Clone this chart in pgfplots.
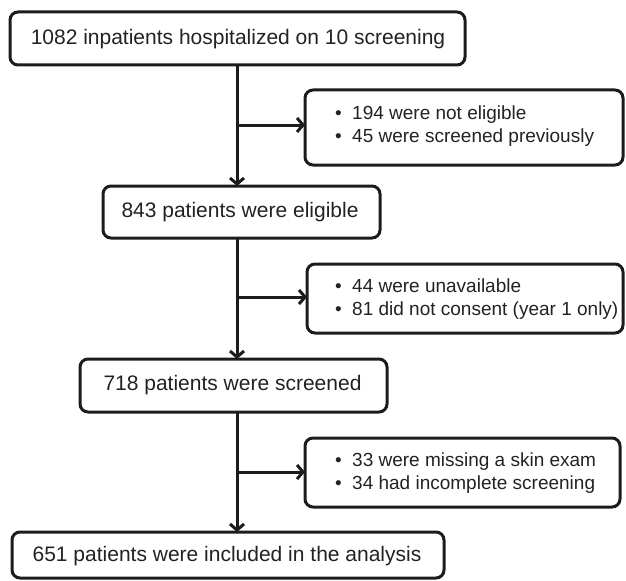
\documentclass[border=0pt]{standalone}
\usepackage{pgfplots}
\pgfplotsset{compat=1.18}
\usepackage{fontspec}
\setmainfont{Liberation Sans}
\usetikzlibrary{arrows.meta}
\definecolor{ink}{HTML}{1C1C1C}
\definecolor{txt}{HTML}{222222}
\newcommand{\bul}{\makebox[17bp][l]{\textbullet}}
\begin{document}
\begin{tikzpicture}[
  box/.style={draw=ink,line width=3bp,rounded corners=8bp},
  conn/.style={draw=ink,line width=3bp},
  arr/.style={draw=ink,line width=3bp,-{Straight Barb[length=6bp,width=14bp,line width=3bp]}},
  big/.style={text=txt,font=\fontsize{21bp}{24bp}\selectfont,inner sep=0pt},
  small/.style={text=txt,font=\fontsize{19bp}{23.5bp}\selectfont,inner sep=0pt,align=left,anchor=west}]
\begin{axis}[width=626bp,height=581bp,scale only axis,
  xmin=0,xmax=626,ymin=0,ymax=581,y dir=reverse,hide axis,clip=false]
\addplot[draw=none] coordinates {(0,0) (626,581)};
% boxes
\addplot[box] coordinates {(237,12) (465,12) (465,65) (10,65) (10,12)} --cycle;
\addplot[box] coordinates {(465,90) (623,90) (623,165) (305,165) (305,90)} --cycle;
\addplot[box] coordinates {(240,186) (380,186) (380,238) (103,238) (103,186)} --cycle;
\addplot[box] coordinates {(465,264) (623,264) (623,333) (307,333) (307,264)} --cycle;
\addplot[box] coordinates {(250,359) (387,359) (387,412) (80,412) (80,359)} --cycle;
\addplot[box] coordinates {(465,438) (620,438) (620,507) (305,507) (305,438)} --cycle;
\addplot[box] coordinates {(228,532) (444,532) (444,578) (12,578) (12,532)} --cycle;
% connectors
\addplot[arr] coordinates {(237,65) (237,186)};
\addplot[arr] coordinates {(237,125) (305,125)};
\addplot[arr] coordinates {(237,238) (237,359)};
\addplot[arr] coordinates {(237,297) (307,297)};
\addplot[arr] coordinates {(237,412) (237,532)};
\addplot[arr] coordinates {(237,472) (305,472)};
% text
\node[big] at (axis cs:238,39) {1082 inpatients hospitalized on 10 screening};
\node[small] at (axis cs:335,126) {\bul 194 were not eligible\\\bul 45 were screened previously};
\node[big] at (axis cs:240,212) {843 patients were eligible};
\node[small] at (axis cs:335,299) {\bul 44 were unavailable\\\bul 81 did not consent (year 1 only)};
\node[big] at (axis cs:232.5,385) {718 patients were screened};
\node[small] at (axis cs:335,473) {\bul 33 were missing a skin exam\\\bul 34 had incomplete screening};
\node[big] at (axis cs:227,556) {651 patients were included in the analysis};
\end{axis}
\end{tikzpicture}
\end{document}
